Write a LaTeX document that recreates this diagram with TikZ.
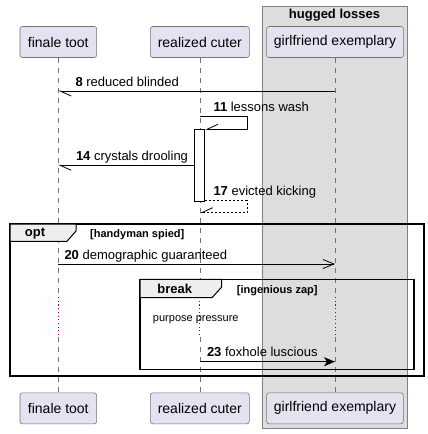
\documentclass[tikz,border=0pt]{standalone}
\usepackage{fontspec}
\setmainfont{Liberation Sans}
\usetikzlibrary{arrows.meta,calc,positioning}
\definecolor{actorbg}{HTML}{E2E2F0}
\definecolor{groupbg}{HTML}{DDDDDD}
\definecolor{tabbg}{HTML}{EEEEEE}
\definecolor{delaycol}{HTML}{A80036}
\tikzset{
    halfdown/.style={-{Straight Barb[harpoon,length=11pt,width=10pt]}},
    halfup/.style={-{Straight Barb[harpoon,swap,length=11pt,width=10pt]}},
    openhead/.style={-{Straight Barb[length=11pt,width=9pt]}},
    fullhead/.style={-{Stealth[length=11pt,width=9pt,inset=3pt]}},
}

\begin{document}
\begin{tikzpicture}[x=1pt,y=-1pt,
actor/.style={draw=black!55, fill=actorbg, rounded corners=2.5pt, minimum height=31pt, inner sep=0pt, line width=0.6pt, font=\fontsize{14}{16}\selectfont},
lifeline/.style={draw=black!55, dash pattern=on 5pt off 5pt, line width=0.6pt},
delayed/.style={draw=delaycol, dash pattern=on 1.1pt off 2.6pt, line width=1pt},
message/.style={line width=0.8pt},
reply/.style={line width=0.8pt, dash pattern=on 2pt off 2pt},
msgtext/.style={anchor=base west, inner sep=0pt, font=\fontsize{13}{15}\selectfont},
fragbox/.style={draw, line width=1.5pt},
tabbed/.style={draw, fill=tabbg, line width=1pt},
tabtext/.style={inner sep=0pt, font=\bfseries\fontsize{13}{15}\selectfont},
guard/.style={anchor=base west, inner sep=0pt, font=\bfseries\fontsize{11}{13}\selectfont},
]
\useasboundingbox (0,0) rectangle (428,434);

% box
\draw[draw=black!50, fill=groupbg, line width=0.8pt] (262,6) rectangle (407,428.7);
\node[tabtext] (hugged) at (334.5,15.5) {hugged losses};

\node[actor, minimum width=76.7pt] (ft-top) at (58.3,42) {finale toot};
\node[actor, minimum width=99pt] (rc-top) at (199.8,42) {realized cuter};
\node[actor, minimum width=136.7pt] (gf-top) at (335,42) {girlfriend exemplary};
\node[actor, minimum width=76.7pt] (ft-bot) at (58.3,408.3) {finale toot};
\node[actor, minimum width=99pt] (rc-bot) at (199.8,408.3) {realized cuter};
\node[actor, minimum width=136.7pt] (gf-bot) at (335,408.3) {girlfriend exemplary};

\coordinate (dl1) at (0,297);
\coordinate (dl2) at (0,337);
\foreach \p in {ft,rc,gf}{
    \draw[lifeline] (\p-top.south) -- (\p-top.south |- dl1);
    \draw[delayed] (\p-top.south |- dl1) -- (\p-top.south |- dl2);
    \draw[lifeline] (\p-top.south |- dl2) -- (\p-bot.north);
}

\coordinate (r8) at (0,91);
\coordinate (r11) at (0,116);
\coordinate (loop11) at (247,129.3);
\coordinate (r14) at (0,165.3);
\coordinate (r17) at (0,200.3);
\coordinate (loop17) at (247,212.7);
\coordinate (r20) at (0,264);
\coordinate (r23) at (0,361.7);

\node[draw, fill=white, line width=0.8pt, inner sep=0pt, minimum width=10pt, minimum height=71.7pt] (act) at (rc-top |- r14) {};

\draw[message, halfdown] (gf-top |- r8) -- (ft-top |- r8);
\node[msgtext] (t8) at ($(ft-top |- r8)+(17,-5)$) {\textbf{8} reduced blinded};

\draw[message, halfup] (rc-top |- r11) -| (loop11) -- (act.east |- loop11);
\node[msgtext] (t11) at ($(rc-top |- r11)+(13.5,-5)$) {\textbf{11} lessons wash};

\draw[message, halfdown] (act.west) -- (ft-top |- act);
\node[msgtext] (t14) at ($(ft-top |- r14)+(17.5,-5)$) {\textbf{14} crystals drooling};

\draw[reply, halfup] (act.east |- r17) -| (loop17) -- (rc-top |- loop17);
\node[msgtext] (t17) at ($(rc-top |- r17)+(13.5,-5)$) {\textbf{17} evicted kicking};

% opt
\draw[fragbox] (10,224) rectangle (424,376);
\draw[tabbed] (10,224) -- (76,224) -- (76,231) -- (67,241.3) -- (10,241.3) -- cycle;
\node[tabtext] (opt) at (35,233.5) {opt};
\node[guard] (optguard) at (90,237.5) {[handyman spied]};

\draw[message, openhead] (ft-top |- r20) -- (gf-top |- r20);
\node[msgtext] (t20) at ($(ft-top |- r20)+(6,-5)$) {\textbf{20} demographic guaranteed};

% break
\draw[fragbox] (140,279.3) rectangle (414,369.3);
\draw[tabbed] (140,279.3) -- (221.7,279.3) -- (221.7,287) -- (212,297.7) -- (140,297.7) -- cycle;
\node[tabtext] (brk) at (174.7,289) {break};
\node[guard] (brkguard) at (236.7,293.5) {[ingenious zap]};

\node[inner sep=0pt, font=\fontsize{11}{13}\selectfont] (delay) at (195.8,319.5) {purpose pressure};

\draw[message, fullhead] (rc-top |- r23) -- (gf-top |- r23);
\node[msgtext] (t23) at ($(rc-top |- r23)+(7,-5)$) {\textbf{23} foxhole luscious};

\end{tikzpicture}
\end{document}
